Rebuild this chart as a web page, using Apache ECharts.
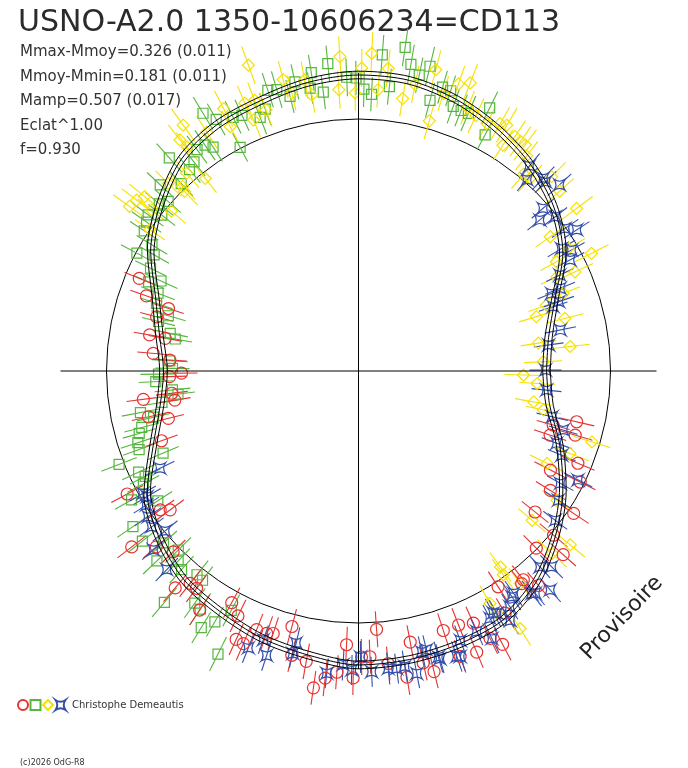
<!DOCTYPE html>
<html>
<head>
<meta charset="utf-8">
<script src="https://cdn.jsdelivr.net/npm/echarts@6/dist/echarts.min.js"></script>
<style>
  html, body { margin: 0; padding: 0; background: #fff; }
  #chart { width: 688px; height: 768px; }
</style>
</head>
<body>
<div id="chart"></div>
<script>
// phase angle (deg), radius, half error bar
const greenPts = [
  [61.8,268,17],[63.5,294,18],[66.9,280,19],[68.5,280,17],[70.3,281,18],[71.8,295,16],[73.5,296,17],[75.2,280,18],
  [76.8,313,20],[78.4,302,18],[80.3,311,20],[81.8,327,19],[83.8,286,18],[85.7,317,20],[87.3,277,17],[88.9,282,18],
  [90.5,293,17],[92.3,294,19],[95.7,309,18],[97.2,281,17],[99,302,18],[99.7,287,16],[102.4,296,18],[104,283,17],
  [106.2,293,19],[107.9,295,18],[109.6,278,17],[111.2,272,18],[114.5,281,17],[116.3,283,18],[117.9,253,16],[119.5,289,18],
  [121.1,301,19],[123,267,17],[124.2,273,18],[126.1,274,17],[128.2,266,18],[130,263,17],[131.6,285,19],[133.4,258,17],
  [136.8,272,18],[138.3,255,17],[140,260,18],[141.6,251,17],[143.4,262,19],[144.9,259,18],[146.8,256,17],[148.6,242,18],
  [150.4,235,17],[152,251,18],[153.7,232,17],[155.5,217,18],[157,228,17],[158.8,215,18],[161.5,213,17],[163.8,198,18],
  [166.1,206,17],[168.7,192,18],[170.1,186,17],[176.9,189,18],[179.2,186,17],[180.9,200,18],[183,203,17],[185.8,187,18],
  [187.3,182,17],[189.1,199,18],[190.8,222,19],[192.7,210,17],[194.6,224,18],[195.9,228,17],[198,232,18],[199.7,233,17],
  [201.3,257,19],[202.8,212,17],[204.7,242,18],[206.3,238,17],[207.7,243,18],[209.6,261,19],[212.9,239,17],[214.6,274,19],
  [218.2,275,18],[221.4,260,18],[223.3,277,19],[224.8,254,18],[226.5,262,17],[228.3,266,18],[230,302,19],[231.6,260,18],
  [233.3,261,17],[234.8,284,18],[236.4,286,19],[238.5,301,18],[240.2,289,17],[242,271,18],[243.6,316,19]
];
const yellowPts = [
  [2.9,185,19],[6.6,213,20],[8.8,182,18],[14.3,213,19],[17,186,18],[19.3,199,19],[20.8,219,18],[24.6,238,20],
  [25.4,220,18],[26.8,261,19],[28.9,226,18],[30.3,243,19],[35,234,18],[36.7,272,20],[41.8,270,19],[45.2,274,20],
  [48.3,258,18],[50,257,19],[52,273,18],[53.6,281,19],[54.8,281,18],[56.3,282,19],[57.4,268,18],[58.9,287,20],
  [60.2,285,19],[62.6,279,18],[65.3,281,19],[67.5,285,18],[68.8,309,20],[70.8,304,19],[73,290,18],[74.2,260,19],
  [75.6,311,20],[78.8,292,19],[80.8,276,18],[84.4,304,19],[86,282,18],[87.6,318,21],[89.4,303,19],[90.7,278,18],
  [93.4,315,20],[94,282,19],[99.6,280,18],[100.5,296,19],[103.5,286,18],[104.5,301,19],[109.5,277,18],[109.8,325,20],
  [111,290,19],[112.7,272,18],[113,291,19],[117.2,295,20],[117.7,276,18],[122.4,283,19],[125.5,302,20],[127.4,282,18],
  [127.7,292,19],[128.5,246,18],[131,262,19],[133.6,255,18],[134.1,250,19],[135.4,267,18],[139.5,246,19],[140.8,276,20],
  [142.1,262,18],[142.4,280,19],[144.3,282,20],[145.9,252,18],[299.5,267,20],[299.7,279,19],[302.1,304,20],[305.4,250,19],
  [305.9,242,18],[307.3,267,19],[316.7,266,20],[319.3,229,18],[320.6,274,19],[326.9,237,18],[333.9,210,19],[338.7,227,20],
  [343.1,244,19],[348.1,189,18],[350,178,19],[356,179,18],[358.6,165,19]
];
const redPts = [
  [157.1,238,16],[160.5,225,17],[161.8,200,16],[165,209,17],[170.2,212,16],[170.4,196,17],[175.1,206,16],[176.7,189,17],
  [180.7,177,16],[181.7,189,17],[186.8,188,16],[187.5,217,17],[189,186,16],[192.3,215,17],[194,196,16],[199.5,209,17],
  [208,262,18],[215,242,17],[216.4,234,17],[217.8,287,18],[221,268,17],[224.3,259,17],[229.8,284,18],[231.6,271,17],
  [233.3,271,17],[236.4,287,18],[241.3,264,17],[243.8,273,18],[245.5,295,17],[247.1,296,18],[248.5,278,17],[250.7,278,18],
  [252,276,17],[255.4,264,18],[256.8,292,17],[259.8,295,18],[261.9,320,17],[263.8,309,18],[265.9,302,17],[267.5,274,18],
  [269,307,17],[270.6,286,18],[272.3,286,17],[274,259,18],[275.8,294,17],[279,310,18],[280.8,276,17],[282.5,299,18],
  [284.1,310,17],[288.1,273,18],[289.6,303,17],[291.5,273,18],[292.8,305,17],[294.5,277,18],[296.2,298,17],[297.8,309,18],
  [301.2,283,17],[302.9,257,18],[307.5,268,17],[308.3,266,18],[310,280,17],[315.1,251,18],[318.1,275,17],[319.9,255,18],
  [321.4,226,17],[326.5,258,18],[328.1,226,17],[332.7,216,18],[333.4,248,17],[337.2,238,18],[341.5,202,17],[343.5,226,18],
  [344.5,202,17],[346.9,224,18]
];
const bluePts = [
  [0.3,187,16],[7.8,192,15],[11.5,206,16],[18.3,205,15],[19.1,212,16],[21.9,208,15],[22.3,218,16],[25.5,223,15],
  [27.7,239,16],[29.6,245,15],[31.1,237,16],[32.9,260,15],[34.6,251,16],[38.1,250,15],[39.8,236,16],[41.4,246,15],
  [42.8,274,16],[45.3,266,15],[46.2,267,16],[48.6,255,15],[50.2,267,16],[206.1,221,16],[209.6,248,15],[210.7,246,16],
  [212.3,251,15],[214.7,256,16],[217,259,15],[219.6,251,16],[221.1,272,15],[226,276,16],[248.3,298,16],[250.5,285,15],
  [252.1,299,16],[256.9,290,15],[257.1,279,16],[264,304,15],[267,294,16],[268.7,299,15],[270.4,286,16],[272.5,301,15],
  [275.7,299,16],[277.3,300,15],[278.9,299,16],[280.9,308,15],[282.7,288,16],[283.7,287,15],[285.6,297,16],[285.8,299,15],
  [289,302,16],[289.6,303,15],[290.7,288,16],[294.4,286,15],[296.5,299,16],[298,280,15],[299.1,277,16],[299.7,279,15],
  [301.3,292,16],[302.7,280,15],[304.2,273,16],[304.9,271,15],[307.9,282,16],[308.5,284,15],[311.2,291,16],[312.8,267,15],
  [314.6,275,16],[322.8,247,15],[327.1,238,16],[330.9,231,15],[333.6,245,16],[337.5,220,15],[340,211,16],[343.9,213,15],
  [346.7,199,16],[354.2,189,15]
];

// fitted mean curve
const curveAng = [0,10,20,30,40,50,60,70,80,90,100,110,120,130,140,150,160,170,180,190,200,210,220,230,240,250,260,270,280,290,300,310,320,330,340,350,360];
const curveMean = [188,193,209,236,255,268.5,279,288.5,295,296,293,287.5,284,276,259,240,216,202,195,201.5,218.5,244,260,272,277.5,284,288.5,294,293,291,288,276,257,236,214,194,188];
const curveSpread = 3.8;

const refRadius = 252;   // reference circle
const axisReach = 298;   // cross lines
const plotRadius = 340;  // data polar, large enough to hold everything

const titleText = 'USNO-A2.0 1350-10606234=CD113';
const statLines = ['Mmax-Mmoy=0.326 (0.011)', 'Mmoy-Mmin=0.181 (0.011)', 'Mamp=0.507 (0.017)', 'Eclat^1.00', 'f=0.930'];

const RED = '#e63232', GREEN = '#56b63e', YELLOW = '#f5e100', BLUE = '#3550aa';
const STAR = 'path://M0,0 Q5,3.5 10,0 Q6.5,5 10,10 Q5,6.5 0,10 Q3.5,5 0,0 Z';
const FONT = '"DejaVu Sans", sans-serif';
const CENTER = [358.5, 371];

const chart = echarts.init(document.getElementById('chart'));

function errBar(color) {
  return function (params, api) {
    const r = api.value(0), a = api.value(1), e = api.value(2);
    const p1 = api.coord([r - e, a]);
    const p2 = api.coord([r + e, a]);
    return {
      type: 'line',
      shape: { x1: p1[0], y1: p1[1], x2: p2[0], y2: p2[1] },
      style: { stroke: color, lineWidth: 1.1 }
    };
  };
}

function bars(pts, color) {
  return {
    type: 'custom', coordinateSystem: 'polar', polarIndex: 0, silent: true, clip: false,
    renderItem: errBar(color),
    data: pts.map(p => [p[1], p[0], p[2]])
  };
}

function marks(name, pts, color, symbol, size) {
  return {
    name: name, type: 'scatter', coordinateSystem: 'polar', polarIndex: 0, silent: true, clip: false,
    symbol: symbol, symbolSize: size,
    itemStyle: { color: 'rgba(0,0,0,0)', borderColor: color, borderWidth: 1.2, opacity: 1 },
    data: pts.map(p => [p[1], p[0]])
  };
}

function curve(offset) {
  return {
    type: 'line', coordinateSystem: 'polar', polarIndex: 0, silent: true, clip: false,
    smooth: 0.3, symbol: 'none',
    lineStyle: { color: '#000', width: 1 },
    data: curveMean.map((m, i) => [m + offset, curveAng[i]])
  };
}

function axisLine(a1, a2) {
  return {
    type: 'line', coordinateSystem: 'polar', polarIndex: 0, silent: true, clip: false, symbol: 'none',
    lineStyle: { color: '#000', width: 1 },
    data: [[axisReach, a1], [0, a1], [axisReach, a2]]
  };
}

const graphics = [{
  type: 'text', x: 18, y: 23,
  style: { text: titleText, font: '30px ' + FONT, fill: '#2b2b2b', textAlign: 'left', textVerticalAlign: 'middle' }
}];
statLines.forEach((t, i) => {
  graphics.push({
    type: 'text', x: 20, y: 52.5 + i * 24.4,
    style: { text: t, font: '15px ' + FONT, fill: '#333', textAlign: 'left', textVerticalAlign: 'middle' }
  });
});
graphics.push({
  type: 'text', x: 72, y: 705,
  style: { text: 'Christophe Demeautis', font: '10px ' + FONT, fill: '#333', textAlign: 'left', textVerticalAlign: 'middle' }
});
graphics.push({
  type: 'text', x: 20, y: 763,
  style: { text: '(c)2026 OdG-R8', font: '8px ' + FONT, fill: '#333', textAlign: 'left', textVerticalAlign: 'middle' }
});
graphics.push({
  type: 'text', x: 622, y: 618, rotation: 46 * Math.PI / 180,
  style: { text: 'Provisoire', font: '22px ' + FONT, fill: '#222', textAlign: 'center', textVerticalAlign: 'middle' }
});

const hiddenAngle = {
  type: 'value', min: 0, max: 360, startAngle: 0, clockwise: false, silent: true,
  axisLine: { show: false }, axisTick: { show: false }, axisLabel: { show: false }, splitLine: { show: false }
};

chart.setOption({
  animation: false,
  backgroundColor: '#fff',
  polar: [
    { center: CENTER, radius: plotRadius },
    { center: CENTER, radius: refRadius }
  ],
  angleAxis: [
    Object.assign({ polarIndex: 0 }, hiddenAngle),
    Object.assign({}, hiddenAngle, { polarIndex: 1, axisLine: { show: true, lineStyle: { color: '#000', width: 1 } } })
  ],
  radiusAxis: [
    { polarIndex: 0, type: 'value', min: 0, max: plotRadius, show: false },
    { polarIndex: 1, type: 'value', min: 0, max: refRadius, show: false }
  ],
  legend: {
    left: 17, top: 699, padding: 0, itemWidth: 10, itemHeight: 10, itemGap: 0.5,
    selectedMode: false, formatter: () => '', textStyle: { fontSize: 8 },
    data: ['circle', 'square', 'diamond', 'star']
  },
  graphic: graphics,
  series: [
    axisLine(0, 180),
    axisLine(90, 270),
    curve(-curveSpread),
    curve(0),
    curve(curveSpread),
    bars(greenPts, GREEN), marks('square', greenPts, GREEN, 'rect', 10),
    bars(yellowPts, YELLOW), marks('diamond', yellowPts, YELLOW, 'diamond', 12),
    bars(redPts, RED), marks('circle', redPts, RED, 'circle', 12),
    bars(bluePts, BLUE), marks('star', bluePts, BLUE, STAR, 11)
  ]
});
</script>
</body>
</html>
